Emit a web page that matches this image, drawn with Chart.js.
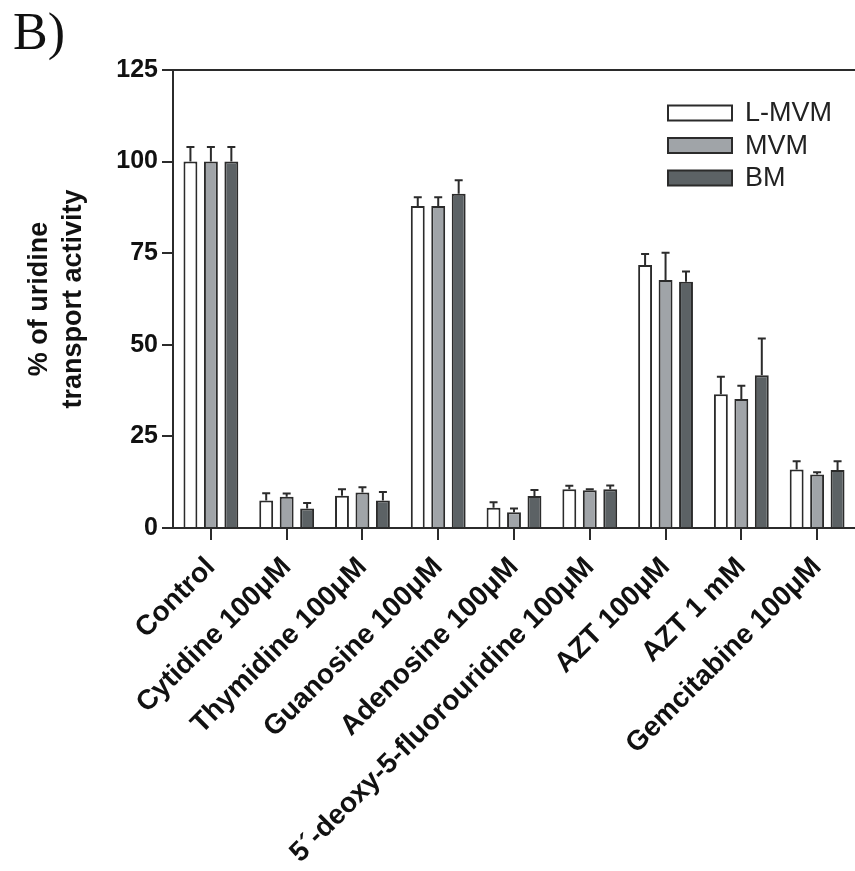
<!DOCTYPE html>
<html>
<head>
<meta charset="utf-8">
<script src="https://cdn.jsdelivr.net/npm/chart.js@4"></script>
<style>
  html, body { margin: 0; padding: 0; background: #fff; }
  #wrap { width: 855px; height: 871px; }
</style>
</head>
<body>
<div id="wrap"><canvas id="chart" width="855" height="871"></canvas></div>
<script>
const categories = [
  'Control',
  'Cytidine 100\u03bcM',
  'Thymidine 100\u03bcM',
  'Guanosine 100\u03bcM',
  'Adenosine 100\u03bcM',
  '5\u00b4-deoxy-5-fluorouridine 100\u03bcM',
  'AZT 100\u03bcM',
  'AZT 1 mM',
  'Gemcitabine 100\u03bcM',
];
const yTicks = [0, 25, 50, 75, 100, 125];

const lmvm = [100, 7.5, 8.8, 87.9, 5.5, 10.6, 71.8, 36.5, 16.0];
const lmvmErr = [4, 2, 1.8, 2.4, 1.5, 0.9, 3, 4.8, 2.2];
const mvm = [100, 8.5, 9.7, 87.9, 4.3, 10.3, 67.7, 35.2, 14.6];
const mvmErr = [4, 0.9, 1.4, 2.4, 1, 0.3, 7.4, 3.6, 0.6];
const bm = [100, 5.3, 7.5, 91.2, 8.7, 10.6, 67.2, 41.7, 15.8];
const bmErr = [4, 1.5, 2.3, 3.7, 1.7, 1, 2.8, 10, 2.4];

const ink = '#2b2b2b';
const sans = 'Arial, "Liberation Sans", sans-serif';

// upward error bars with caps, like the Prism original
const errorBars = {
  id: 'errorBars',
  afterDatasetsDraw(chart) {
    const { ctx } = chart;
    const y = chart.scales.y;
    ctx.save();
    ctx.strokeStyle = ink;
    ctx.lineWidth = 2;
    chart.data.datasets.forEach((ds, i) => {
      chart.getDatasetMeta(i).data.forEach((bar, j) => {
        const top = y.getPixelForValue(ds.data[j] + ds.errors[j]);
        ctx.beginPath();
        ctx.moveTo(bar.x, bar.y);
        ctx.lineTo(bar.x, top);
        ctx.moveTo(bar.x - 4, top);
        ctx.lineTo(bar.x + 4, top);
        ctx.stroke();
      });
    });
    ctx.restore();
  },
};

// top frame line, panel letter and the in-plot legend
const decorations = {
  id: 'decorations',
  afterDraw(chart) {
    const { ctx, chartArea } = chart;
    ctx.save();
    ctx.strokeStyle = ink;
    ctx.lineWidth = 2;
    ctx.beginPath();
    ctx.moveTo(chartArea.left - 10, chartArea.top);
    ctx.lineTo(chart.width, chartArea.top);
    ctx.stroke();

    ctx.fillStyle = '#111';
    ctx.font = '52px "Liberation Serif", "Times New Roman", serif';
    ctx.textBaseline = 'alphabetic';
    ctx.fillText('B)', 13, 49);

    ctx.font = '27px ' + sans;
    ctx.textBaseline = 'middle';
    chart.data.datasets.forEach((ds, i) => {
      const cy = 113 + i * 32.5;
      ctx.fillStyle = ds.backgroundColor;
      ctx.fillRect(668, cy - 7.5, 64, 15);
      ctx.strokeStyle = ds.borderColor;
      ctx.lineWidth = 2;
      ctx.strokeRect(668, cy - 7.5, 64, 15);
      ctx.fillStyle = '#222';
      ctx.fillText(ds.label, 745, cy + 1);
    });
    ctx.restore();
  },
};

const series = (label, data, errors, fill) => ({
  label,
  data,
  errors,
  backgroundColor: fill,
  borderColor: ink,
  borderWidth: 2,
  categoryPercentage: 0.81,
  barPercentage: 0.68,
});

new Chart(document.getElementById('chart'), {
  type: 'bar',
  data: {
    labels: categories,
    datasets: [
      series('L-MVM', lmvm, lmvmErr, '#ffffff'),
      series('MVM', mvm, mvmErr, '#a0a4a8'),
      series('BM', bm, bmErr, '#5c6265'),
    ],
  },
  options: {
    responsive: false,
    animation: false,
    layout: { padding: { top: 70, left: 0, right: 0, bottom: 0 } },
    plugins: { legend: { display: false }, tooltip: { enabled: false }, title: { display: false } },
    scales: {
      x: {
        offset: true,
        grid: { drawOnChartArea: false, drawTicks: true, tickLength: 12, color: ink, lineWidth: 2, offset: false },
        border: { display: true, color: ink, width: 2 },
        ticks: {
          autoSkip: false,
          maxRotation: 45,
          minRotation: 45,
          padding: 11,
          color: '#111',
          font: { family: sans, size: 28, weight: 'bold' },
        },
        afterFit: (scale) => { scale.height = 871 - 528; },
      },
      y: {
        min: 0,
        max: 125,
        afterBuildTicks: (scale) => { scale.ticks = yTicks.map((v) => ({ value: v })); },
        grid: { drawOnChartArea: false, drawTicks: true, tickLength: 11, color: ink, lineWidth: 2 },
        border: { display: true, color: ink, width: 2 },
        ticks: {
          padding: 4,
          color: '#111',
          font: { family: sans, size: 25, weight: 'bold' },
        },
        title: {
          display: true,
          text: ['% of uridine', 'transport activity'],
          color: '#111',
          padding: { top: 23, bottom: 0 },
          font: { family: sans, size: 27, weight: 'bold', lineHeight: 1.25 },
        },
        afterFit: (scale) => { scale.width = 173; },
      },
    },
  },
  plugins: [errorBars, decorations],
});
</script>
</body>
</html>
